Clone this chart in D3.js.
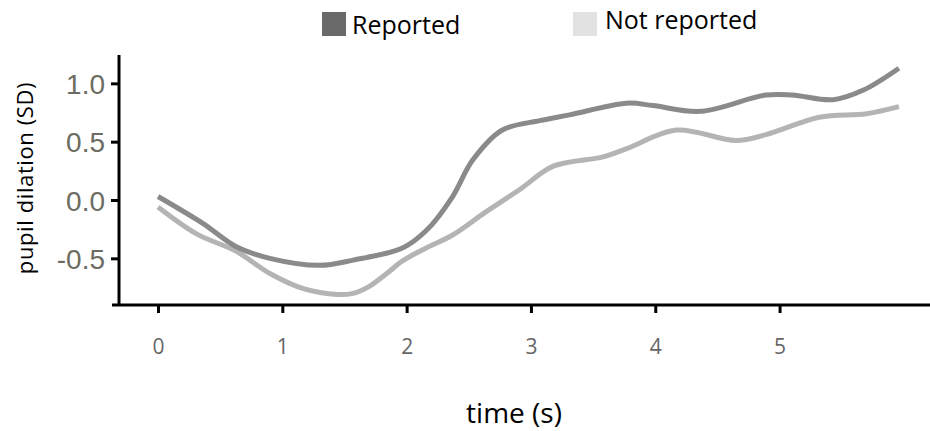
<!DOCTYPE html>
<html>
<head>
<meta charset="utf-8">
<script src="https://cdn.jsdelivr.net/npm/d3@7"></script>
<style>
  body { margin: 0; background: #fff; }
  .sans { font-family: "Open Sans", sans-serif; }
</style>
</head>
<body>
<div class="chart-pupil"></div>
<script>
// time (s) and pupil dilation (SD)
const timeReported = [0, 0.36, 0.63, 0.9, 1.3, 1.57, 1.97, 2.16, 2.37, 2.53, 2.77, 3.07, 3.31, 3.77, 3.98, 4.36, 4.89, 5.1, 5.43, 5.67, 5.96];
const valReported = [0.03, -0.2, -0.4, -0.5, -0.56, -0.515, -0.41, -0.26, 0.03, 0.34, 0.6, 0.68, 0.73, 0.83, 0.81, 0.76, 0.9, 0.9, 0.86, 0.94, 1.13];

const timeNot = [0, 0.31, 0.63, 0.9, 1.17, 1.44, 1.57, 1.70, 1.84, 1.97, 2.16, 2.37, 2.64, 2.91, 3.18, 3.58, 3.77, 4.17, 4.65, 4.89, 5.32, 5.7, 5.96];
const valNot = [-0.06, -0.29, -0.44, -0.63, -0.76, -0.81, -0.8, -0.74, -0.63, -0.52, -0.41, -0.3, -0.1, 0.09, 0.29, 0.37, 0.44, 0.6, 0.51, 0.56, 0.71, 0.74, 0.8];

const xTicks = [0, 1, 2, 3, 4, 5];
const yTicks = [-0.5, 0, 0.5, 1.0];

const seriesNames = ['Reported', 'Not reported'];
const lineColors = ['#8a8a8a', '#b4b4b4'];
const swatchColors = ['#6a6a6a', '#e2e2e2'];

const width = 930, height = 431;

const svg = d3.select('.chart-pupil').append('svg')
  .attr('width', width)
  .attr('height', height);

const x = d3.scaleLinear().domain([-0.37, 6.21]).range([112, 930]);
const y = d3.scaleLinear().domain([-0.9, 1.243]).range([305, 55]);

// y axis
const yAxis = d3.axisLeft(y)
  .tickValues(yTicks)
  .tickFormat(d => d.toFixed(1))
  .tickSize(8)
  .tickPadding(6);

const gy = svg.append('g')
  .attr('transform', 'translate(119,0)')
  .call(yAxis);
gy.select('.domain').attr('stroke', '#000').attr('stroke-width', 3).attr('d', 'M0,55V306');
gy.selectAll('.tick line').attr('stroke', '#000').attr('stroke-width', 3);
gy.selectAll('.tick text')
  .attr('fill', '#6c6c62')
  .attr('dy', '0.36em')
  .style('font-family', '"Liberation Sans", Arial, sans-serif')
  .style('font-size', '28px');

// x axis
const xAxis = d3.axisBottom(x)
  .tickValues(xTicks)
  .tickFormat(d3.format('d'))
  .tickSize(8)
  .tickPadding(26);

const gx = svg.append('g')
  .attr('transform', 'translate(0,305)')
  .call(xAxis);
gx.select('.domain').attr('stroke', '#000').attr('stroke-width', 3).attr('d', 'M112,0H930');
gx.selectAll('.tick line').attr('stroke', '#000').attr('stroke-width', 3);
gx.selectAll('.tick text')
  .attr('class', 'sans')
  .attr('fill', '#666')
  .style('font-size', '21px');

// axis titles
svg.append('text')
  .attr('class', 'sans')
  .attr('x', 514)
  .attr('y', 423)
  .attr('text-anchor', 'middle')
  .style('font-size', '28px')
  .text('time (s)');

svg.append('text')
  .attr('class', 'sans')
  .attr('transform', 'translate(33,178) rotate(-90)')
  .attr('text-anchor', 'middle')
  .style('font-size', '22px')
  .style('letter-spacing', '0.6px')
  .text('pupil dilation (SD)');

// lines
const line = d3.line()
  .x(d => x(d[0]))
  .y(d => y(d[1]))
  .curve(d3.curveCatmullRom.alpha(0.5));

const series = [
  d3.zip(timeNot, valNot),
  d3.zip(timeReported, valReported),
];

svg.append('path')
  .datum(series[0])
  .attr('fill', 'none')
  .attr('stroke', lineColors[1])
  .attr('stroke-width', 5)
  .attr('d', line);

svg.append('path')
  .datum(series[1])
  .attr('fill', 'none')
  .attr('stroke', lineColors[0])
  .attr('stroke-width', 5)
  .attr('d', line);

// legend
const legendX = [322, 573];
const legend = svg.selectAll('.legend')
  .data(seriesNames)
  .enter()
  .append('g')
  .attr('transform', (d, i) => `translate(${legendX[i]},12)`);

legend.append('rect')
  .attr('width', 24)
  .attr('height', 24)
  .attr('fill', (d, i) => swatchColors[i]);

legend.append('text')
  .attr('class', 'sans')
  .attr('x', (d, i) => i === 0 ? 30 : 32)
  .attr('y', (d, i) => i === 0 ? 22 : 17)
  .style('font-size', '25px')
  .text(d => d);
</script>
</body>
</html>
